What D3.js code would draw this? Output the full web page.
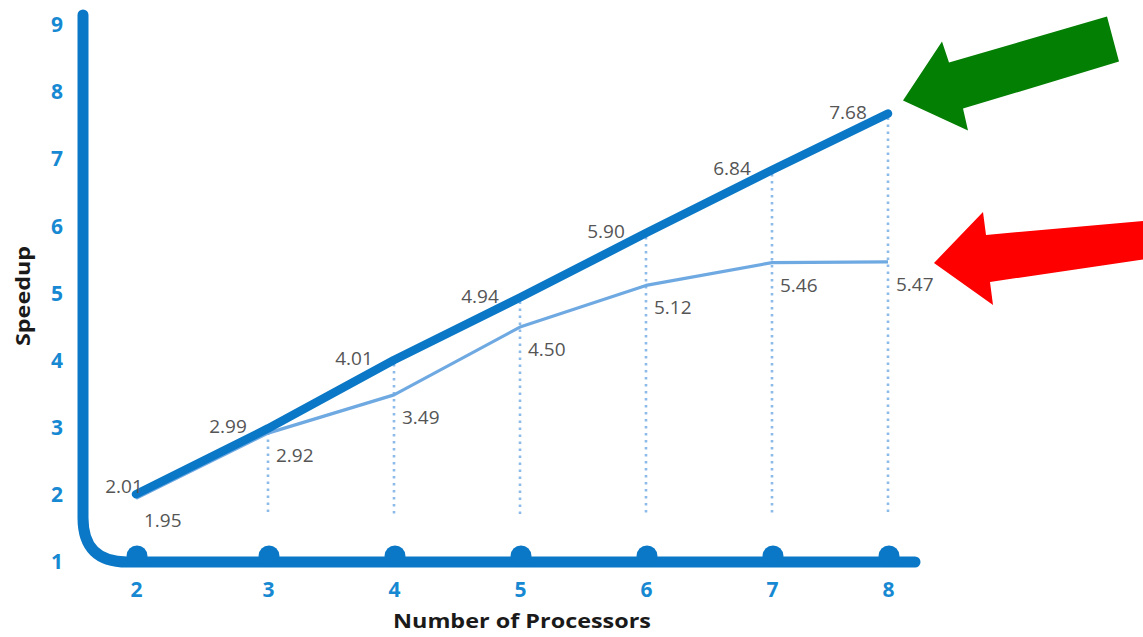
<!DOCTYPE html>
<html><head><meta charset="utf-8">
<script src="https://cdn.jsdelivr.net/npm/d3@7"></script>
<style>
html,body{margin:0;padding:0;background:#fff;}
svg{display:block;font-family:"Open Sans","Noto Sans",sans-serif;}
</style></head>
<body>
<svg id="chart" width="1143" height="637"></svg>
<script>
const processors = [2, 3, 4, 5, 6, 7, 8];
const speedupIdeal = [2.01, 2.99, 4.01, 4.94, 5.90, 6.84, 7.68];
const speedupActual = [1.95, 2.92, 3.49, 4.50, 5.12, 5.46, 5.47];
const yTicks = [1, 2, 3, 4, 5, 6, 7, 8, 9];
const xTitle = "Number of Processors";
const yTitle = "Speedup";

const svg = d3.select("#chart");
const blue = "#0a78c6";
const tickBlue = "#1789d2";

const x = d3.scaleLinear().domain([2, 3, 7, 8]).range([136, 268, 772, 888]);
const y = d3.scaleLinear().domain([1, 9]).range([562, 25]);

// L-shaped axis
const ax = 83, ay = 562, r = 44;
svg.append("path")
  .attr("d", `M${ax},${y(9) - 10} L${ax},${ay - r} Q${ax},${ay} ${ax + r},${ay} L915,${ay}`)
  .attr("fill", "none").attr("stroke", blue).attr("stroke-width", 11)
  .attr("stroke-linecap", "round");

// bumps at ticks
svg.append("g").selectAll("circle").data(processors).join("circle")
  .attr("cx", d => x(d) + 1).attr("cy", ay - 6).attr("r", 10.5).attr("fill", blue);

// y tick labels
const yAxis = svg.append("g").attr("transform", "translate(66,0)")
  .call(d3.axisLeft(y).tickValues(yTicks).tickSize(0).tickFormat(d3.format("d")));
yAxis.select(".domain").remove();
yAxis.selectAll("text").attr("fill", tickBlue).attr("font-size", 21).attr("font-weight", 700)
  .attr("font-family", "Open Sans, sans-serif").attr("text-anchor", "middle").attr("x", -9);

// x tick labels
const xAxis = svg.append("g").attr("transform", "translate(0,586)")
  .call(d3.axisBottom(x).tickValues(processors).tickSize(0).tickFormat(d3.format("d")));
xAxis.select(".domain").remove();
xAxis.selectAll("text").attr("fill", tickBlue).attr("font-size", 21).attr("font-weight", 700)
  .attr("font-family", "Open Sans, sans-serif").attr("dy", "0.4em");

// titles
svg.append("text").attr("x", 522).attr("y", 628).attr("text-anchor", "middle")
  .attr("font-size", 19).attr("font-weight", 700).attr("fill", "#1a1a1a")
  .attr("textLength", 258).attr("lengthAdjust", "spacingAndGlyphs").text(xTitle);
svg.append("text").attr("transform", "translate(30,296) rotate(-90)").attr("text-anchor", "middle")
  .attr("font-size", 20).attr("font-weight", 700).attr("fill", "#1a1a1a")
  .attr("textLength", 100).attr("lengthAdjust", "spacingAndGlyphs").text(yTitle);

// dotted guides
svg.append("g").selectAll("line").data(processors.slice(1)).join("line")
  .attr("x1", d => x(d)).attr("x2", d => x(d))
  .attr("y1", (d, i) => y(speedupIdeal[i + 1]) + 4).attr("y2", y(1.7))
  .attr("stroke", "#8dbbe9").attr("stroke-width", 2.6).attr("stroke-dasharray", "2.5,4.5");

// lines
const line = d3.line().x(d => x(d[0])).y(d => y(d[1]));
svg.append("path").datum(processors.map((p, i) => [p, speedupActual[i]]))
  .attr("d", line).attr("fill", "none").attr("stroke", "#6fa9e2").attr("stroke-width", 3.2)
  .attr("stroke-linejoin", "round");
svg.append("path").datum(processors.map((p, i) => [p, speedupIdeal[i]]))
  .attr("d", line).attr("fill", "none").attr("stroke", blue).attr("stroke-width", 8.5)
  .attr("stroke-linecap", "round").attr("stroke-linejoin", "round");

// labels
svg.append("g").selectAll("text").data(processors).join("text")
  .attr("x", (d, i) => i === 0 ? x(d) - 12 : x(d) - 40)
  .attr("y", (d, i) => y(speedupIdeal[i]) + (i === 0 ? -1 : 5))
  .attr("text-anchor", "middle").attr("font-size", 19).attr("fill", "#555")
  .text((d, i) => speedupIdeal[i].toFixed(2));
svg.append("g").selectAll("text").data(processors).join("text")
  .attr("x", d => x(d) + 8).attr("y", (d, i) => y(speedupActual[i]) + 29)
  .attr("text-anchor", "start").attr("font-size", 19).attr("fill", "#555")
  .text((d, i) => speedupActual[i].toFixed(2));

// annotation arrows
const gTip = [x(8) + 15, y(7.68) - 13];
svg.append("polygon")
  .attr("points", [[0,0],[39,-59],[46,-38],[204,-84],[216,-39],[60,8],[65,30]]
    .map(p => [gTip[0] + p[0], gTip[1] + p[1]].join(",")).join(" "))
  .attr("fill", "#037f03");
const rTip = [x(8) + 46, y(5.47) + 1];
svg.append("polygon")
  .attr("points", [[0,0],[49,-51],[52,-28],[220,-43],[220,-5],[56,19],[59,42]]
    .map(p => [rTip[0] + p[0], rTip[1] + p[1]].join(",")).join(" "))
  .attr("fill", "#fe0000");
</script>
</body></html>
